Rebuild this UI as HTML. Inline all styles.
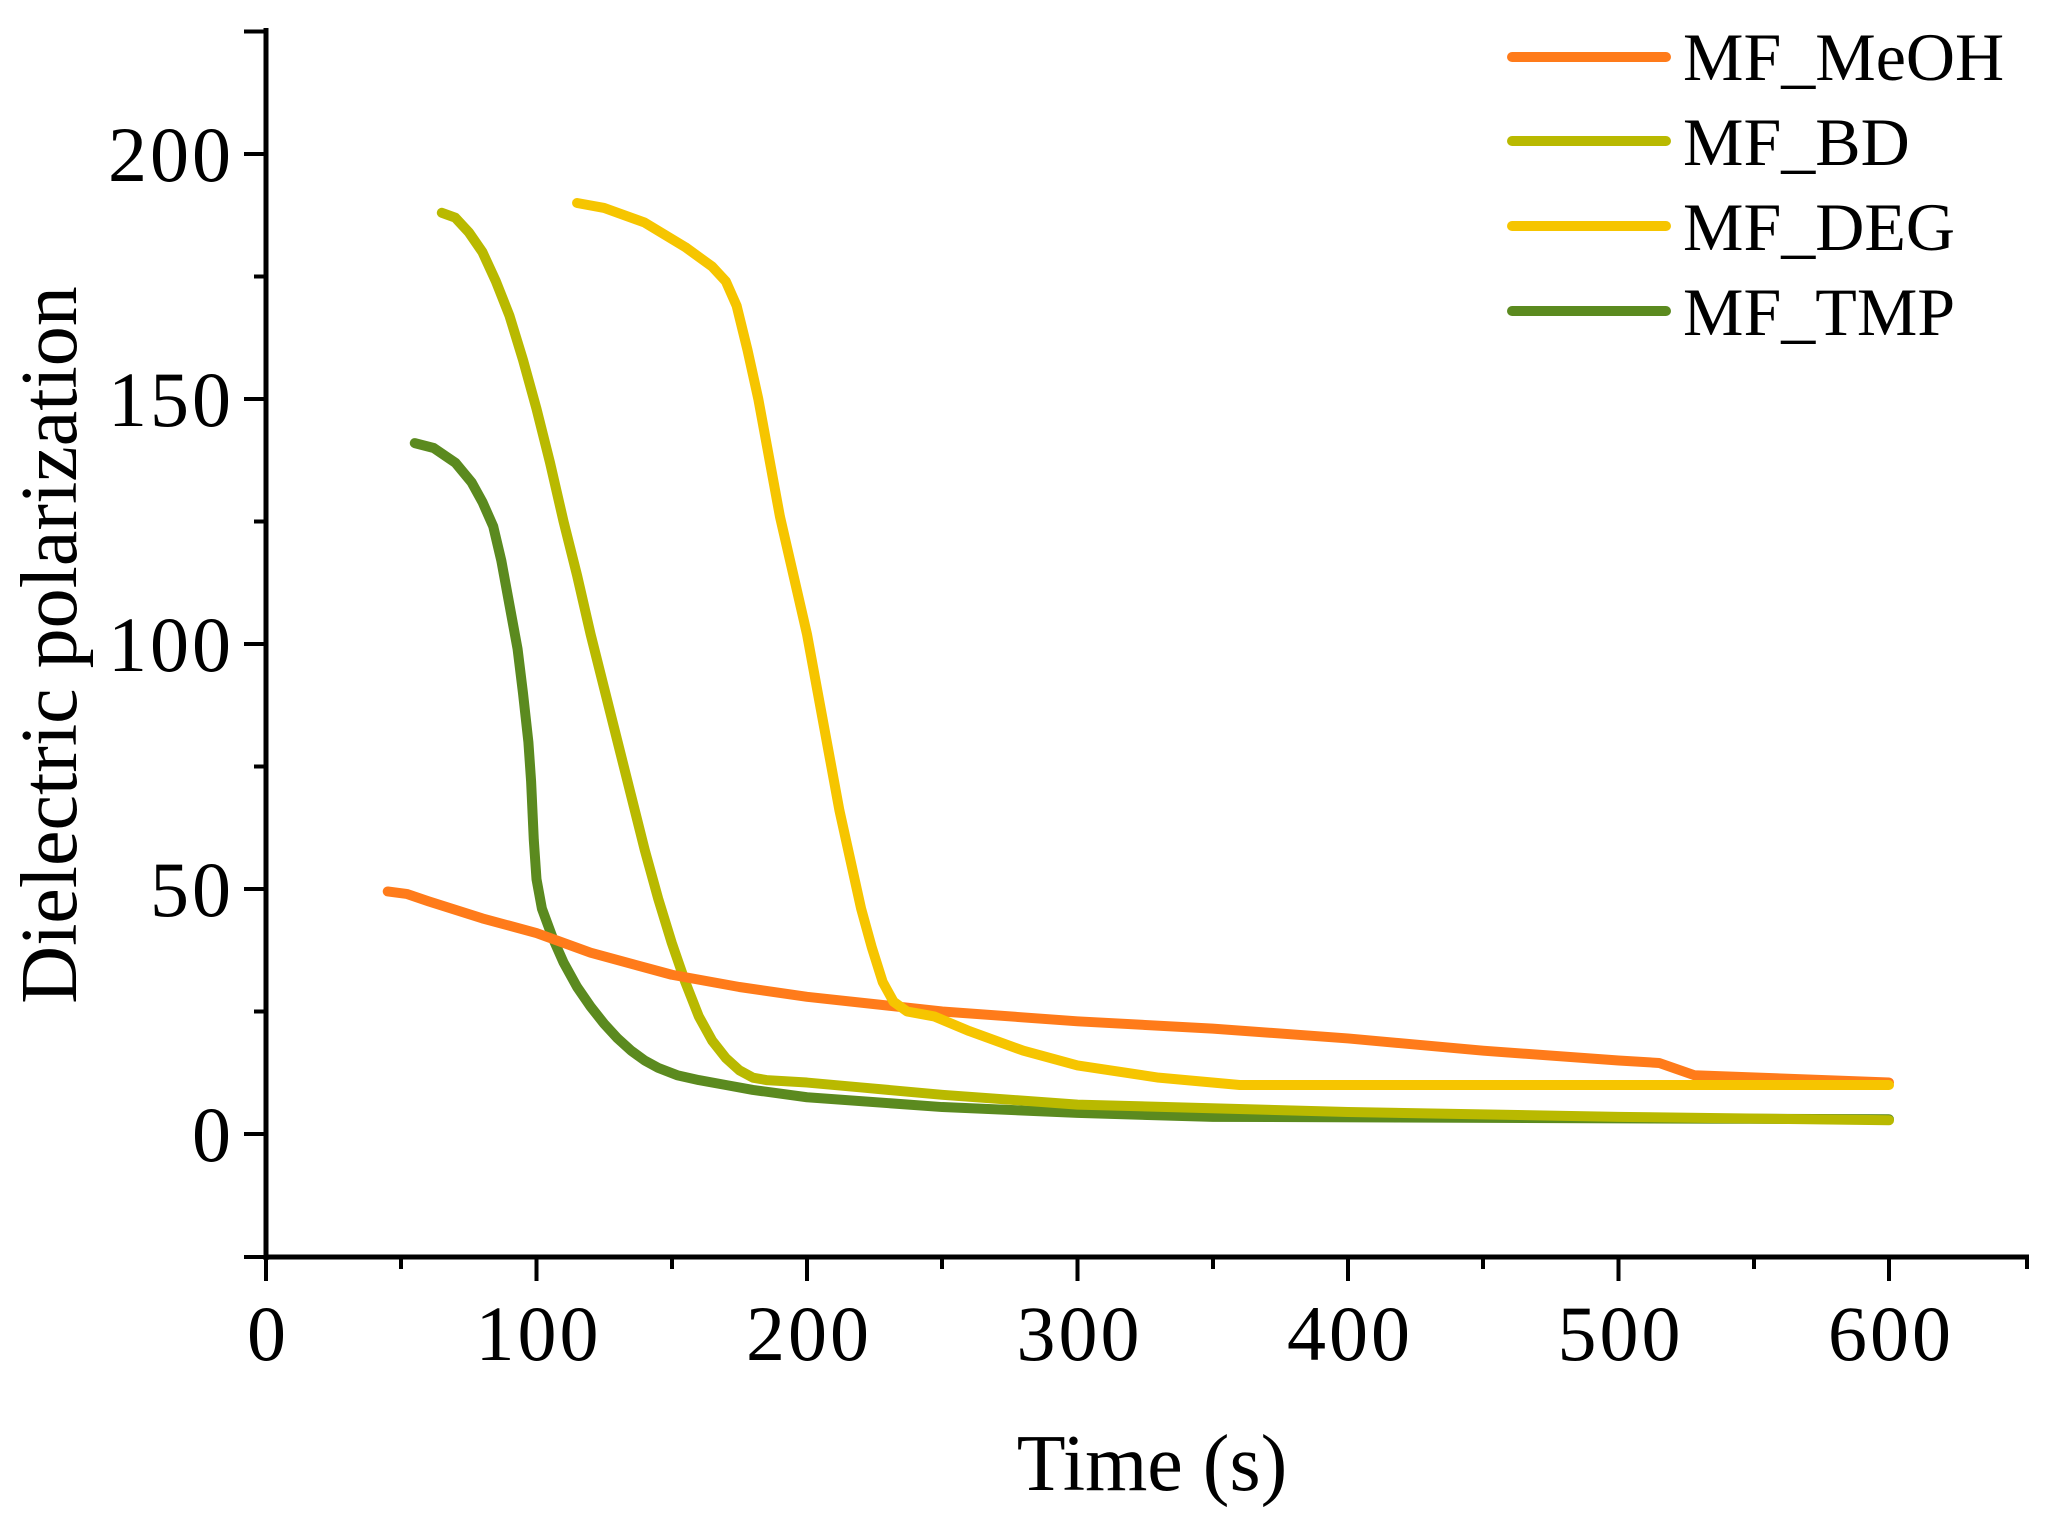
<!DOCTYPE html>
<html><head><meta charset="utf-8"><style>
html,body{margin:0;padding:0;background:#fff;}
svg{display:block;}
text{font-family:"Liberation Serif",serif;fill:#000;}
</style></head><body>
<svg width="2053" height="1524" viewBox="0 0 2053 1524" xmlns="http://www.w3.org/2000/svg">
<line x1="266" y1="28" x2="266" y2="1260" stroke="#000" stroke-width="5"/>
<line x1="264" y1="1257" x2="2029" y2="1257" stroke="#000" stroke-width="5"/>
<g stroke="#000" stroke-width="4">
<line x1="244" y1="31.5" x2="266" y2="31.5"/>
<line x1="244" y1="154" x2="266" y2="154"/>
<line x1="254" y1="276.5" x2="266" y2="276.5"/>
<line x1="244" y1="399" x2="266" y2="399"/>
<line x1="254" y1="521.5" x2="266" y2="521.5"/>
<line x1="244" y1="644" x2="266" y2="644"/>
<line x1="254" y1="766.5" x2="266" y2="766.5"/>
<line x1="244" y1="889" x2="266" y2="889"/>
<line x1="254" y1="1011.5" x2="266" y2="1011.5"/>
<line x1="244" y1="1134" x2="266" y2="1134"/>
<line x1="244" y1="1257" x2="266" y2="1257"/>
<line x1="266" y1="1257" x2="266" y2="1281"/>
<line x1="401" y1="1257" x2="401" y2="1269"/>
<line x1="536.5" y1="1257" x2="536.5" y2="1281"/>
<line x1="672" y1="1257" x2="672" y2="1269"/>
<line x1="807" y1="1257" x2="807" y2="1281"/>
<line x1="942" y1="1257" x2="942" y2="1269"/>
<line x1="1077.5" y1="1257" x2="1077.5" y2="1281"/>
<line x1="1213" y1="1257" x2="1213" y2="1269"/>
<line x1="1348" y1="1257" x2="1348" y2="1281"/>
<line x1="1483" y1="1257" x2="1483" y2="1269"/>
<line x1="1618.5" y1="1257" x2="1618.5" y2="1281"/>
<line x1="1754" y1="1257" x2="1754" y2="1269"/>
<line x1="1889" y1="1257" x2="1889" y2="1281"/>
<line x1="2027" y1="1257" x2="2027" y2="1269"/>
</g>
<g font-size="78" text-anchor="end" letter-spacing="3">
<text x="234" y="181">200</text>
<text x="234" y="426">150</text>
<text x="234" y="671">100</text>
<text x="234" y="916">50</text>
<text x="234" y="1161">0</text>
</g>
<g font-size="78" text-anchor="middle" letter-spacing="3">
<text x="268" y="1360">0</text>
<text x="538.5" y="1360">100</text>
<text x="809" y="1360">200</text>
<text x="1079.5" y="1360">300</text>
<text x="1350" y="1360">400</text>
<text x="1620.5" y="1360">500</text>
<text x="1891" y="1360">600</text>
</g>
<text x="1152" y="1490" font-size="80" text-anchor="middle">Time (s)</text>
<text transform="translate(76,645) rotate(-90)" font-size="80" text-anchor="middle">Dielectric polarization</text>
<g transform="translate(266,1134) scale(2.705,-4.9)" fill="none" stroke-width="10" stroke-linejoin="round" stroke-linecap="round">
<polyline vector-effect="non-scaling-stroke" stroke="#5b8a1f" points="55,141 62,140 70,137 76,133 80,129 84,124 87,117 90,108 93,99 95,90 97,80 98,72 99,60 100,52 102,46 106,40 110,35 115,30 120,26 125,22.5 130,19.5 135,17 140,15 145,13.5 152,12 160,11 170,10 180,9 200,7.5 250,5.5 300,4.3 350,3.5 600,3"/>
<polyline vector-effect="non-scaling-stroke" stroke="#b9b900" points="65,188 70,187 75,184 80,180 85,174 90,167 95,158 100,148 105,137 110,125 115,114 120,102 125,91 130,80 135,69 140,58 145,48 150,39 155,31 160,24 165,19 170,15.5 175,13 180,11.5 185,11 200,10.5 220,9.5 250,8 300,6 400,4.5 500,3.5 600,2.8"/>
<polyline vector-effect="non-scaling-stroke" stroke="#ff7b1a" points="45,49.5 52,49 60,47.5 80,44 100,41 120,37 150,32.5 175,30 200,28 250,25 300,23 350,21.5 400,19.5 450,17 500,15 515,14.5 528,12 600,10.5"/>
<polyline vector-effect="non-scaling-stroke" stroke="#f6c500" points="115,190 125,189 140,186 155,181 165,177 170,174 174,169 178,160 182,150 186,138 190,126 195,114 200,102 204,90 208,78 212,66 216,56 220,46 224,38 228,31 232,27 237,25 242,24.5 247,24 260,21 280,17 300,14 330,11.5 360,10 380,10 600,10"/>
</g>
<g stroke-width="10" stroke-linecap="round">
<line x1="1512" y1="57" x2="1666" y2="57" stroke="#ff7b1a"/>
<line x1="1512" y1="141" x2="1666" y2="141" stroke="#b9b900"/>
<line x1="1512" y1="226" x2="1666" y2="226" stroke="#f6c500"/>
<line x1="1512" y1="311" x2="1666" y2="311" stroke="#5b8a1f"/>
</g>
<g font-size="68">
<text x="1683" y="80">MF_MeOH</text>
<text x="1683" y="165">MF_BD</text>
<text x="1683" y="250">MF_DEG</text>
<text x="1683" y="335">MF_TMP</text>
</g>
</svg>
</body></html>
